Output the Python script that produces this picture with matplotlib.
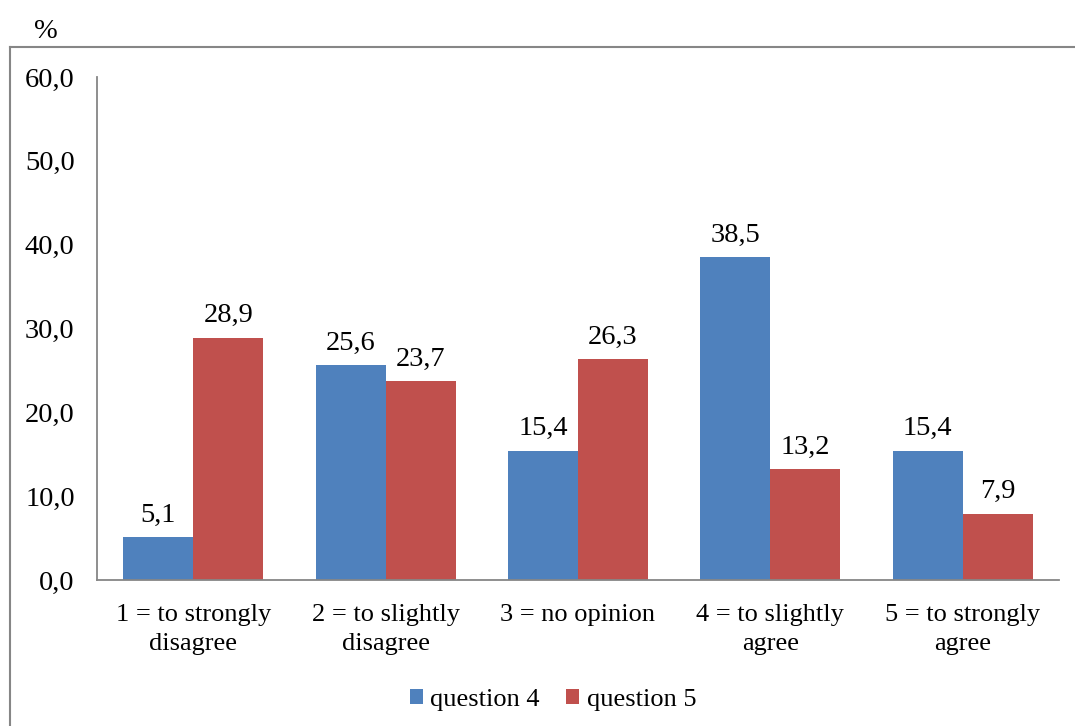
import matplotlib
matplotlib.use("Agg")
import matplotlib.pyplot as plt
from matplotlib.lines import Line2D
import numpy as np

categories = ["1 = to strongly\ndisagree", "2 = to slightly\ndisagree", "3 = no opinion",
              "4 = to slightly\nagree", "5 = to strongly\nagree"]
question4 = [5.1, 25.6, 15.4, 38.5, 15.4]
question5 = [28.9, 23.7, 26.3, 13.2, 7.9]
series_names = ["question 4", "question 5"]
yticks = [0, 10, 20, 30, 40, 50, 60]

plt.rcParams["font.family"] = ["Liberation Serif", "DejaVu Serif"]
FS_NUM = 20.5
FS_TXT = 19

fig = plt.figure(figsize=(10.75, 7.26), dpi=100)
ax = fig.add_axes([0.0902, 0.2011, 0.8948, 0.6929])

x = np.arange(len(categories))
w = 0.364
blue = "#4F81BD"
red = "#C0504D"
b1 = ax.bar(x - w / 2, question4, width=w, color=blue, label=series_names[0])
b2 = ax.bar(x + w / 2, question5, width=w, color=red, label=series_names[1])

def fmt(v):
    return f"{v:.1f}".replace(".", ",")

for bars, vals in ((b1, question4), (b2, question5)):
    for rect, v in zip(bars, vals):
        ax.annotate(fmt(v), (rect.get_x() + rect.get_width() / 2, v),
                    xytext=(0, 7), textcoords="offset points",
                    ha="center", va="bottom", fontsize=FS_NUM)

ax.set_xlim(-0.5, len(categories) - 0.5)
ax.set_ylim(0, 60)
ax.set_yticks(yticks)
ax.set_yticklabels([fmt(t) for t in yticks], fontsize=FS_NUM)
ax.set_xticks(x)
ax.set_xticklabels(categories, fontsize=FS_TXT, linespacing=1.45)
ax.tick_params(axis="y", length=0, pad=16)
ax.tick_params(axis="x", length=0, pad=17)

for side in ("top", "right"):
    ax.spines[side].set_visible(False)
for side in ("left", "bottom"):
    ax.spines[side].set_color("#868686")
    ax.spines[side].set_linewidth(1.3)

# outer chart frame (top and left edges)
fy = 1 - 47 / 726
fx = 10 / 1075
fig.add_artist(Line2D([fx, 1.0], [fy, fy], color="#868686", lw=1.5, transform=fig.transFigure))
fig.add_artist(Line2D([fx, fx], [0.0, fy], color="#868686", lw=1.5, transform=fig.transFigure))

fig.text(46 / 1075, 1 - 31 / 726, "%", ha="center", va="center", fontsize=FS_NUM)

fig.legend(handles=[b1, b2], labels=series_names, loc="center",
           bbox_to_anchor=(553 / 1075, 1 - 700 / 726), ncol=2, frameon=False,
           fontsize=FS_TXT, handlelength=0.5, handleheight=0.5,
           handletextpad=0.27, columnspacing=1.0)

fig.savefig("out.png", dpi=100)
